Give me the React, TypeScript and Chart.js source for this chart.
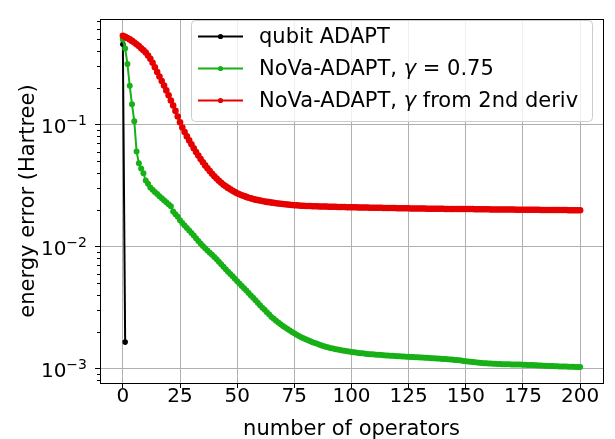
import React, { useEffect, useRef } from 'react';
import { Chart, registerables } from 'chart.js';

Chart.register(...registerables);

// ---------------- data ----------------
const qubitOps = [0, 1];
const qubitErr = [0.453, 0.00165];

// NoVa-ADAPT, gamma = 0.75 (operators 0..200)
const novaFixedErr = [
  0.497, 0.419, 0.313, 0.207, 0.146, 0.106, 0.0601, 0.0480, 0.0435, 0.0398,
  0.0347, 0.0326, 0.0305, 0.0292, 0.0280, 0.0269, 0.0258, 0.0248, 0.0239, 0.0230,
  0.0222, 0.0214, 0.0194, 0.0184, 0.0175, 0.0164, 0.0156, 0.0149, 0.0142, 0.0135,
  0.0129, 0.0123, 0.0117, 0.0111, 0.0106, 0.0101, 0.00966, 0.00927, 0.00891, 0.00857,
  0.00822, 0.00787, 0.00752, 0.00716, 0.00682, 0.00652, 0.00622, 0.00596, 0.00570, 0.00546,
  0.00519, 0.00498, 0.00476, 0.00456, 0.00437, 0.00417, 0.00398, 0.00380, 0.00363, 0.00347,
  0.00331, 0.00316, 0.00303, 0.00290, 0.00278, 0.00265, 0.00256, 0.00247, 0.00239, 0.00231,
  0.00224, 0.00217, 0.00211, 0.00205, 0.001995, 0.001945, 0.001897, 0.001854, 0.001811, 0.001774,
  0.001738, 0.001706, 0.001675, 0.001648, 0.001622, 0.001596, 0.001570, 0.001545, 0.001524, 0.001507,
  0.001489, 0.001472, 0.001459, 0.001445, 0.001432, 0.001419, 0.001409, 0.001400, 0.001390, 0.001380,
  0.001371, 0.001361, 0.001355, 0.001346, 0.001340, 0.001334, 0.001327, 0.001321, 0.001315, 0.001309,
  0.001306, 0.001300, 0.001297, 0.001291, 0.001288, 0.001282, 0.001279, 0.001276, 0.001274, 0.001268,
  0.001265, 0.001262, 0.001259, 0.001256, 0.001253, 0.001250, 0.001247, 0.001245, 0.001242, 0.001239,
  0.001236, 0.001233, 0.001230, 0.001227, 0.001222, 0.001219, 0.001216, 0.001213, 0.001211, 0.001205,
  0.001202, 0.001199, 0.001194, 0.001191, 0.001186, 0.001180, 0.001175, 0.001169, 0.001164, 0.001156,
  0.001151, 0.001146, 0.001140, 0.001135, 0.001127, 0.001122, 0.001117, 0.001114, 0.001109, 0.001107,
  0.001104, 0.001102, 0.001099, 0.001096, 0.001094, 0.001091, 0.001089, 0.001089, 0.001086, 0.001086,
  0.001084, 0.001081, 0.001081, 0.001079, 0.001079, 0.001076, 0.001074, 0.001072, 0.001072, 0.001069,
  0.001067, 0.001064, 0.001062, 0.001059, 0.001057, 0.001054, 0.001052, 0.001052, 0.001050, 0.001047,
  0.001045, 0.001042, 0.001042, 0.001040, 0.001040, 0.001038, 0.001035, 0.001035, 0.001033, 0.001033,
  0.001030,
];

// NoVa-ADAPT, gamma from 2nd derivative (operators 0..200)
const novaDerivErr = [
  0.533, 0.521, 0.509, 0.497, 0.483, 0.469, 0.454, 0.438, 0.421, 0.405,
  0.388, 0.367, 0.345, 0.320, 0.294, 0.269, 0.247, 0.227, 0.208, 0.190,
  0.173, 0.157, 0.143, 0.129, 0.116, 0.104, 0.0944, 0.0865, 0.0798, 0.0740,
  0.0687, 0.0638, 0.0594, 0.0556, 0.0521, 0.0490, 0.0462, 0.0438, 0.0415, 0.0394,
  0.0376, 0.0360, 0.0345, 0.0333, 0.0321, 0.0311, 0.0302, 0.0294, 0.0286, 0.0279,
  0.0273, 0.0268, 0.0263, 0.0259, 0.0255, 0.0251, 0.0248, 0.0245, 0.0242, 0.0240,
  0.0238, 0.0236, 0.0234, 0.0232, 0.0231, 0.0229, 0.0228, 0.0226, 0.0225, 0.0224,
  0.0223, 0.0222, 0.0221, 0.0220, 0.0219, 0.0218, 0.0218, 0.0217, 0.0216, 0.0216,
  0.0215, 0.0215, 0.0215, 0.0214, 0.0214, 0.0214, 0.0213, 0.0213, 0.0213, 0.0213,
  0.0212, 0.0212, 0.0212, 0.0212, 0.0211, 0.0211, 0.0211, 0.0211, 0.0210, 0.0210,
  0.0210, 0.0210, 0.0210, 0.0209, 0.0209, 0.0209, 0.0209, 0.0209, 0.0208, 0.0208,
  0.0208, 0.0208, 0.0208, 0.0208, 0.0207, 0.0207, 0.0207, 0.0207, 0.0207, 0.0207,
  0.0206, 0.0206, 0.0206, 0.0206, 0.0206, 0.0206, 0.0205, 0.0205, 0.0205, 0.0205,
  0.0205, 0.0205, 0.0205, 0.0204, 0.0204, 0.0204, 0.0204, 0.0204, 0.0204, 0.0204,
  0.0204, 0.0203, 0.0203, 0.0203, 0.0203, 0.0203, 0.0203, 0.0203, 0.0203, 0.0203,
  0.0203, 0.0203, 0.0203, 0.0203, 0.0202, 0.0202, 0.0202, 0.0202, 0.0202, 0.0202,
  0.0202, 0.0201, 0.0201, 0.0201, 0.0201, 0.0201, 0.0201, 0.0201, 0.0201, 0.0201,
  0.0201, 0.0201, 0.0200, 0.0200, 0.0200, 0.0200, 0.0200, 0.0200, 0.0200, 0.0200,
  0.0200, 0.0200, 0.0200, 0.0199, 0.0199, 0.0199, 0.0199, 0.0199, 0.0199, 0.0199,
  0.0199, 0.0199, 0.0199, 0.0199, 0.0199, 0.0198, 0.0198, 0.0198, 0.0198, 0.0198,
  0.0198,
];

const xTicks = [0, 25, 50, 75, 100, 125, 150, 175, 200];
const yTicks = [0.001, 0.01, 0.1];
const yTickBase = '10';
const yTickExponents = ['\u22123', '\u22122', '\u22121'];
const yMinorMultiples = [2, 3, 4, 5, 6, 7, 8, 9];
const yDecades = [0.0001, 0.001, 0.01, 0.1];

const seriesColors = ['#000000', '#17b017', '#e60000'];
const legendRows: { text: string; italic?: boolean }[][] = [
  [{ text: 'qubit ADAPT' }],
  [{ text: 'NoVa-ADAPT, ' }, { text: '\u03B3', italic: true }, { text: ' = 0.75' }],
  [{ text: 'NoVa-ADAPT, ' }, { text: '\u03B3', italic: true }, { text: ' from 2nd deriv' }],
];

const FONT = "'DejaVu Sans', 'Liberation Sans', sans-serif";

const toPoints = (xs: number[] | null, ys: number[]) =>
  ys.map((v, i) => ({ x: xs ? xs[i] : i, y: v }));

const decorPlugin = {
  id: 'decor',
  afterDraw(chart: any) {
    const { ctx, chartArea: a, scales } = chart;
    const ys = scales.y;
    ctx.save();
    // minor ticks on the log axis
    ctx.strokeStyle = '#000';
    ctx.lineWidth = 1;
    for (const d of yDecades) {
      for (const m of yMinorMultiples) {
        const v = d * m;
        const p = ys.getPixelForValue(v);
        if (p < a.top || p > a.bottom) continue;
        const py = Math.round(p) + 0.5;
        ctx.beginPath();
        ctx.moveTo(a.left - 3, py);
        ctx.lineTo(a.left, py);
        ctx.stroke();
      }
    }
    // y tick labels with superscript exponents
    ctx.fillStyle = '#000';
    ctx.textBaseline = 'alphabetic';
    ctx.textAlign = 'left';
    yTicks.forEach((v, i) => {
      const p = ys.getPixelForValue(v);
      ctx.font = '14px ' + FONT;
      const we = ctx.measureText(yTickExponents[i]).width;
      ctx.font = '20px ' + FONT;
      const wb = ctx.measureText(yTickBase).width;
      const right = a.left - 13;
      const x0 = right - we - wb;
      ctx.fillText(yTickBase, x0, p + 8.5);
      ctx.font = '14px ' + FONT;
      ctx.fillText(yTickExponents[i], x0 + wb, p + 0.5);
    });

    // frame
    ctx.strokeStyle = '#000';
    ctx.lineWidth = 1;
    const l = Math.round(a.left) + 0.5;
    const t = Math.round(a.top) + 0.5;
    const r = Math.round(a.right) + 0.5;
    const b = Math.round(a.bottom) + 0.5;
    ctx.strokeRect(l, t, r - l, b - t);

    // legend
    const lx = 191.5, ly = 20.5, lw = 401, lh = 101, rad = 4;
    ctx.beginPath();
    ctx.moveTo(lx + rad, ly);
    ctx.lineTo(lx + lw - rad, ly);
    ctx.quadraticCurveTo(lx + lw, ly, lx + lw, ly + rad);
    ctx.lineTo(lx + lw, ly + lh - rad);
    ctx.quadraticCurveTo(lx + lw, ly + lh, lx + lw - rad, ly + lh);
    ctx.lineTo(lx + rad, ly + lh);
    ctx.quadraticCurveTo(lx, ly + lh, lx, ly + lh - rad);
    ctx.lineTo(lx, ly + rad);
    ctx.quadraticCurveTo(lx, ly, lx + rad, ly);
    ctx.closePath();
    ctx.fillStyle = 'rgba(255,255,255,0.8)';
    ctx.fill();
    ctx.strokeStyle = '#cccccc';
    ctx.stroke();

    const rowsY = [36.5, 68.5, 100.5];
    legendRows.forEach((row, i) => {
      const cy = rowsY[i];
      const col = seriesColors[i];
      ctx.strokeStyle = col;
      ctx.lineWidth = 2;
      ctx.beginPath();
      ctx.moveTo(198, cy);
      ctx.lineTo(243, cy);
      ctx.stroke();
      ctx.fillStyle = col;
      ctx.beginPath();
      ctx.arc(220.5, cy, 2.6, 0, Math.PI * 2);
      ctx.fill();
      let tx = 259;
      ctx.fillStyle = '#000';
      ctx.textBaseline = 'middle';
      ctx.textAlign = 'left';
      for (const seg of row) {
        ctx.font = (seg.italic ? 'italic ' : '') + '21px ' + FONT;
        ctx.fillText(seg.text, tx, cy + 1);
        tx += ctx.measureText(seg.text).width;
      }
    });
    ctx.restore();
  },
};

export default function App() {
  const canvasRef = useRef<HTMLCanvasElement | null>(null);

  useEffect(() => {
    document.body.style.margin = '0';
    const canvas = canvasRef.current;
    if (!canvas) return;
    Chart.defaults.font.family = FONT;

    const chart = new Chart(canvas, {
      type: 'line',
      data: {
        datasets: [
          {
            label: 'qubit ADAPT',
            data: toPoints(qubitOps, qubitErr),
            borderColor: seriesColors[0],
            backgroundColor: seriesColors[0],
            pointBackgroundColor: seriesColors[0],
            borderWidth: 2,
            pointRadius: 2.8,
            pointBorderWidth: 0,
            tension: 0,
            order: 3,
          },
          {
            label: 'NoVa-ADAPT, gamma = 0.75',
            data: toPoints(null, novaFixedErr),
            borderColor: seriesColors[1],
            backgroundColor: seriesColors[1],
            pointBackgroundColor: seriesColors[1],
            borderWidth: 2,
            pointRadius: 3.0,
            pointBorderWidth: 0,
            tension: 0,
            order: 2,
          },
          {
            label: 'NoVa-ADAPT, gamma from 2nd deriv',
            data: toPoints(null, novaDerivErr),
            borderColor: seriesColors[2],
            backgroundColor: seriesColors[2],
            pointBackgroundColor: seriesColors[2],
            borderWidth: 2,
            pointRadius: 3.3,
            pointBorderWidth: 0,
            tension: 0,
            order: 1,
          },
        ],
      },
      options: {
        responsive: false,
        animation: false,
        events: [],
        layout: { padding: { top: 9, right: 12, left: 0, bottom: 0 } },
        plugins: { legend: { display: false }, tooltip: { enabled: false } },
        scales: {
          x: {
            type: 'linear',
            min: -10,
            max: 210,
            afterBuildTicks: (s: any) => {
              s.ticks = xTicks.map((v) => ({ value: v }));
            },
            afterFit: (s: any) => {
              s.height = 56;
            },
            ticks: {
              color: '#000',
              font: { size: 20 },
              padding: -3,
              maxRotation: 0,
              autoSkip: false,
              callback: (v: any) => String(v),
            },
            grid: {
              color: '#b0b0b0',
              lineWidth: 1,
              drawTicks: true,
              tickLength: 5,
              tickColor: '#000',
              tickWidth: 1,
            },
            border: { display: false },
            title: {
              display: true,
              text: 'number of operators',
              color: '#000',
              font: { size: 21 },
              padding: { top: 0, bottom: -3 },
            },
          },
          y: {
            type: 'logarithmic',
            min: 0.000763,
            max: 0.73,
            afterBuildTicks: (s: any) => {
              s.ticks = yTicks.map((v) => ({ value: v, major: true }));
            },
            afterFit: (s: any) => {
              s.width = 100;
            },
            ticks: {
              color: '#000',
              font: { size: 20 },
              padding: 7,
              autoSkip: false,
              callback: () => '',
            },
            grid: {
              color: '#b0b0b0',
              lineWidth: 1,
              drawTicks: true,
              tickLength: 5,
              tickColor: '#000',
              tickWidth: 1,
            },
            border: { display: false },
            title: {
              display: true,
              text: 'energy error (Hartree)',
              color: '#000',
              font: { size: 21 },
              padding: { top: 16, bottom: 0 },
            },
          },
        },
      },
      plugins: [decorPlugin],
    } as any);

    return () => chart.destroy();
  }, []);

  return (
    <div style={{ width: 615, height: 439 }}>
      <canvas ref={canvasRef} width={615} height={439} style={{ display: 'block' }} />
    </div>
  );
}
